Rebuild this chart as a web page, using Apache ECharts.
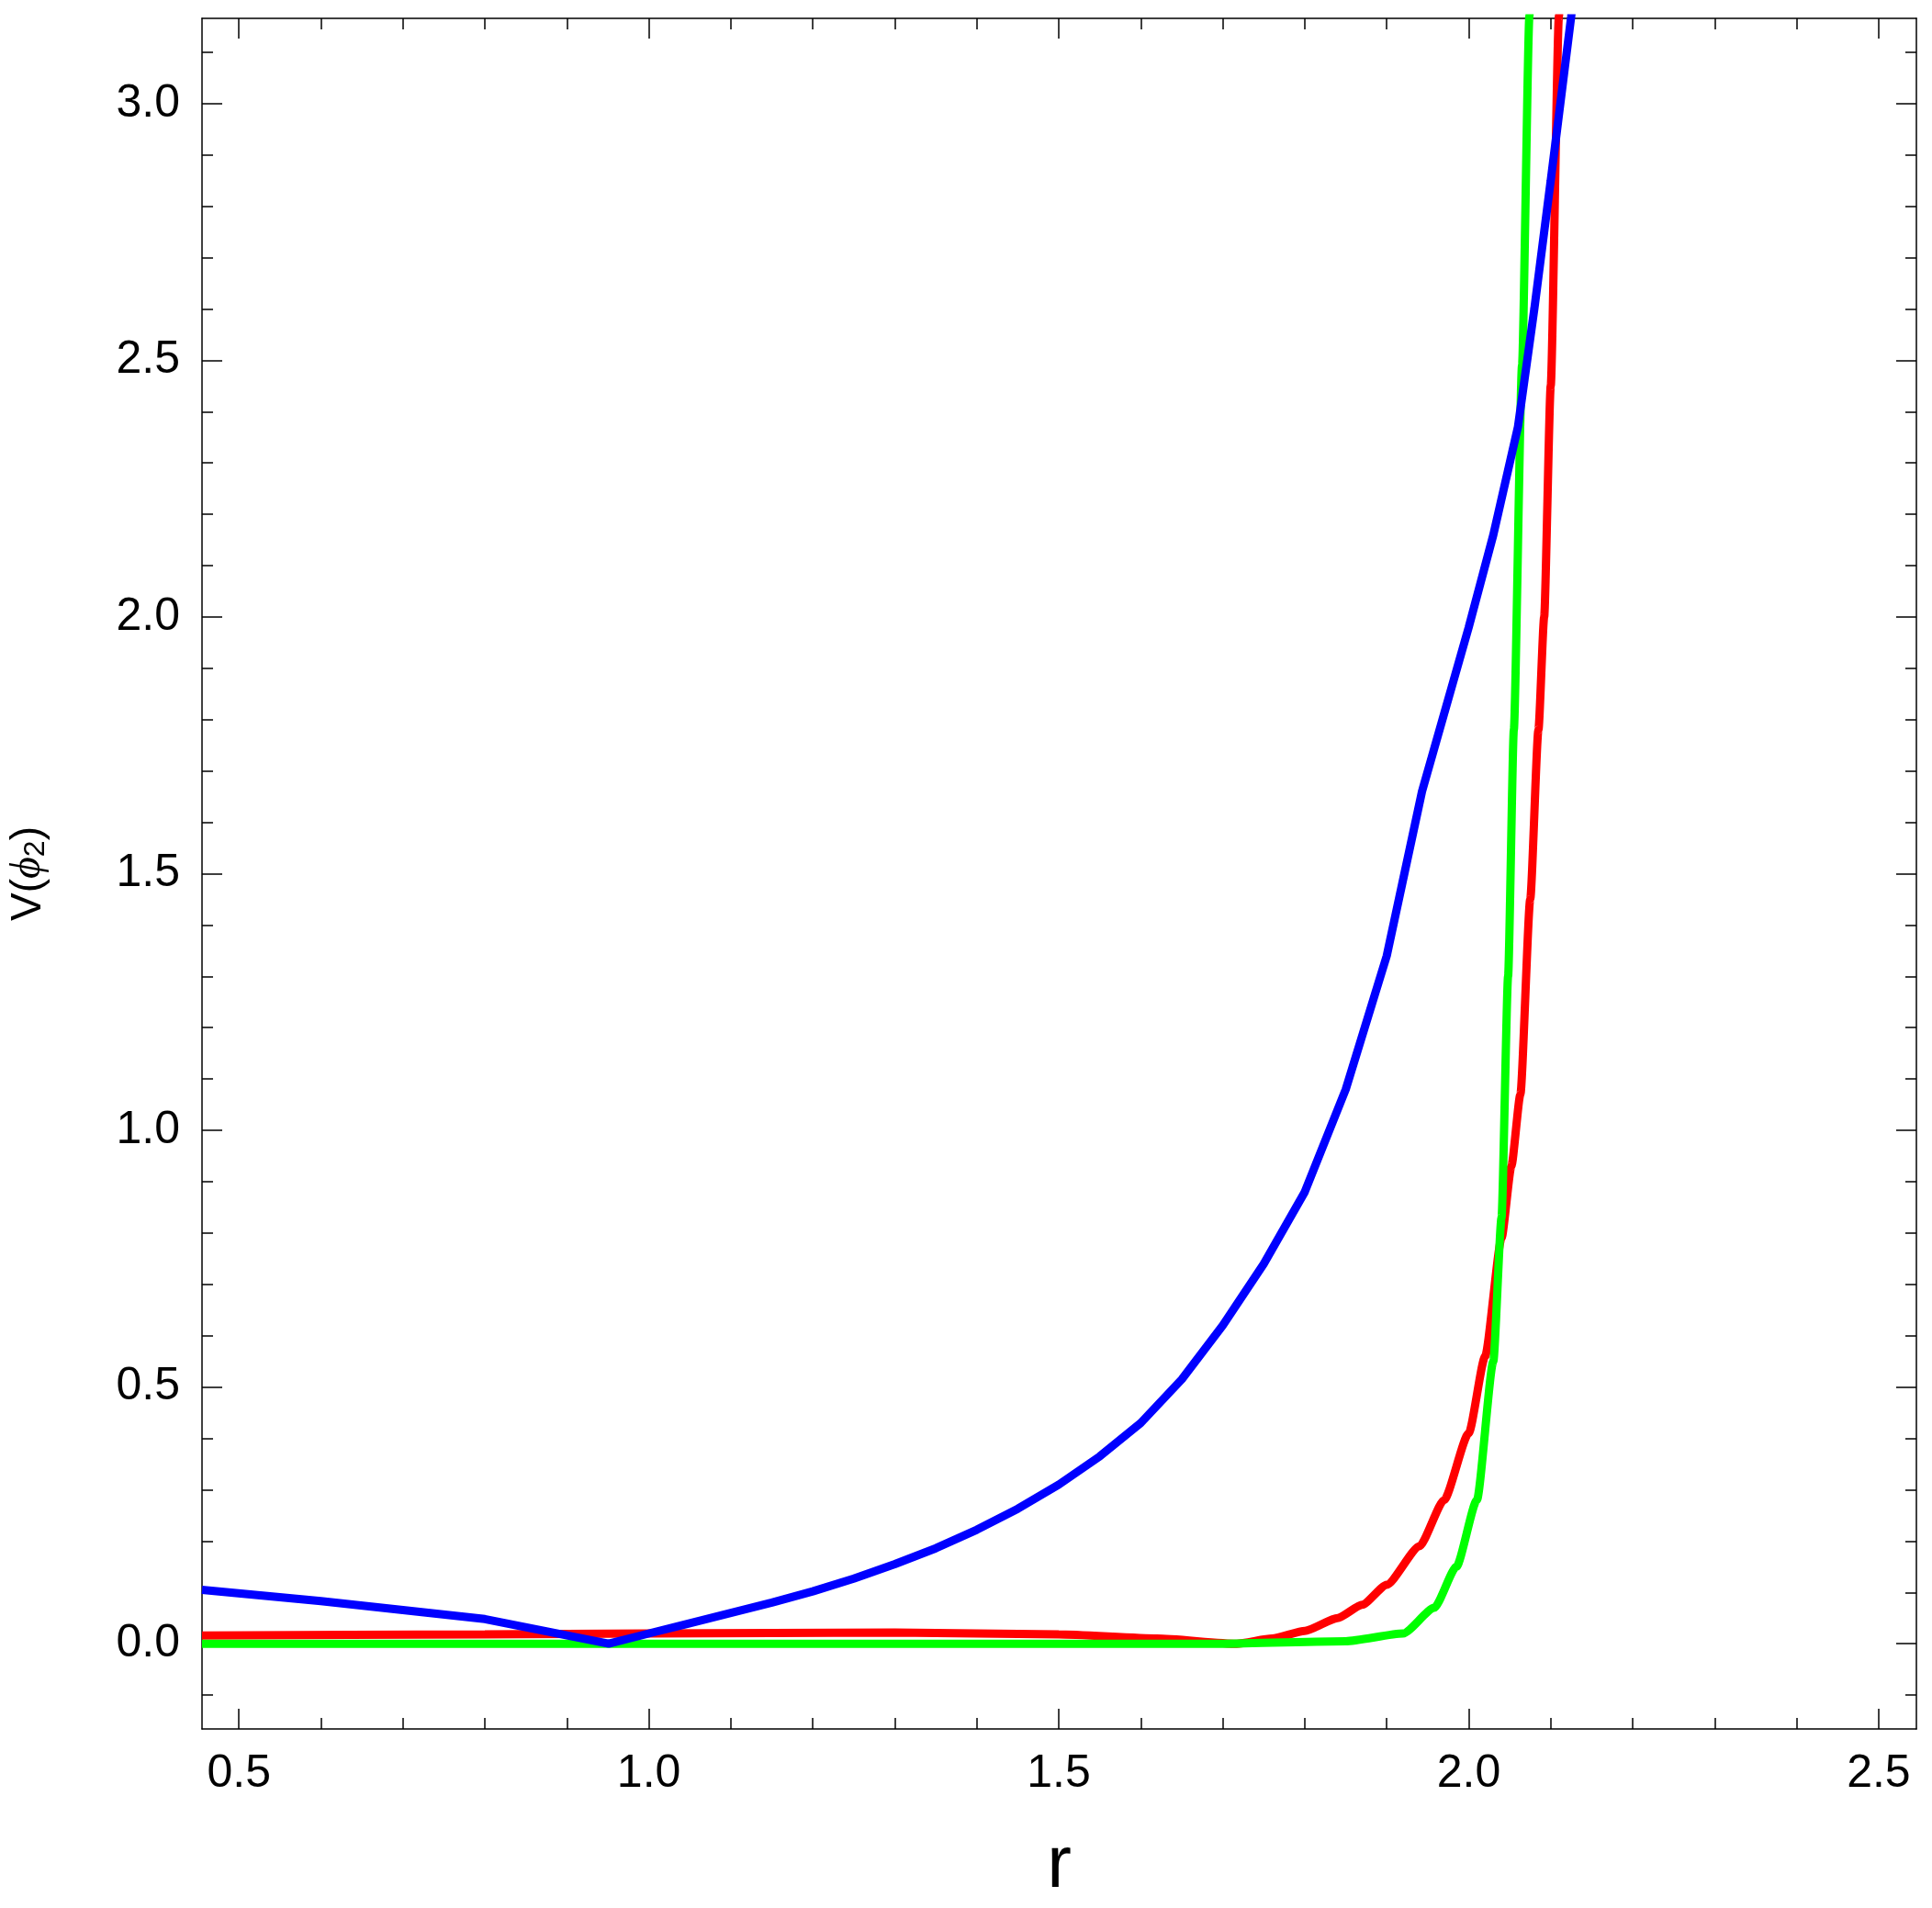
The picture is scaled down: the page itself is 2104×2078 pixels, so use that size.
<!DOCTYPE html>
<html><head><meta charset="utf-8">
<script src="https://cdn.jsdelivr.net/npm/echarts@6/dist/echarts.min.js"></script>
<style>html,body{margin:0;background:#fff}#c{width:2104px;height:2078px}</style>
</head><body><div id="c"></div>
<script>
const blue = [[0.455,0.105],[0.6,0.083],[0.8,0.048],[0.951,0.0],[1.0,0.02],[1.05,0.04],[1.1,0.06],[1.15,0.08],[1.2,0.102],[1.25,0.127],[1.3,0.155],[1.35,0.186],[1.4,0.222],[1.45,0.263],[1.5,0.31],[1.55,0.365],[1.6,0.43],[1.65,0.515],[1.7,0.62],[1.75,0.74],[1.8,0.88],[1.85,1.08],[1.9,1.34],[1.943,1.66],[2.0,1.98],[2.03,2.16],[2.06,2.37],[2.08,2.6],[2.1,2.85],[2.125,3.17],[2.13,3.25]];
const red = [[0.455,0.016],[0.8,0.018],[1.0,0.02],[1.3,0.022],[1.5,0.018],[1.62,0.01],[1.717,0.0],[1.76,0.01],[1.8,0.025],[1.84,0.05],[1.87,0.076],[1.9,0.115],[1.94,0.19],[1.97,0.28],[2.0,0.41],[2.02,0.56],[2.04,0.79],[2.052,0.93],[2.063,1.07],[2.075,1.45],[2.085,1.78],[2.092,2.0],[2.1,2.45],[2.11,3.17],[2.113,3.3]];
const green = [[0.455,0.0],[1.7,0.0],[1.85,0.005],[1.92,0.02],[1.958,0.07],[1.985,0.15],[2.01,0.28],[2.03,0.55],[2.04,0.83],[2.048,1.3],[2.055,1.78],[2.065,2.49],[2.074,3.17],[2.076,3.3]];
const xt = [0.5,1.0,1.5,2.0,2.5], yt = [0,0.5,1,1.5,2,2.5,3];
const ch = echarts.init(document.getElementById('c'));
const ax = {onZero:false,lineStyle:{color:'#000',width:1.5}};
const tk = {inside:true,length:22,lineStyle:{color:'#000',width:1.5}};
const mt = {show:true,splitNumber:5,length:12,lineStyle:{color:'#000',width:1.5}};
const lab = {fontSize:50,fontFamily:'Liberation Sans',color:'#000',margin:24,formatter:v=>v.toFixed(1)};
ch.setOption({
  animation:false,
  grid:{left:201,right:17,top:20,bottom:174},
  xAxis:[
    {type:'value',min:0.455,max:2.546,name:'r',nameLocation:'middle',nameGap:110,
     nameTextStyle:{fontSize:80,fontFamily:'Liberation Sans',color:'#000'},
     axisLine:ax,axisTick:Object.assign({customValues:xt},tk),minorTick:mt,splitLine:{show:false},
     axisLabel:Object.assign({customValues:xt},lab)},
    {type:'value',position:'top',min:0.455,max:2.546,axisLine:ax,
     axisTick:Object.assign({customValues:xt},tk),minorTick:mt,axisLabel:{show:false},splitLine:{show:false}}
  ],
  yAxis:[
    {type:'value',min:-0.166,max:3.166,name:'{a|V(}{b|ϕ}{c|2}{a|)}',nameLocation:'middle',nameGap:165,
     nameTextStyle:{rich:{a:{fontSize:46,fontFamily:'Liberation Sans'},b:{fontSize:46,fontStyle:'italic',fontFamily:'Liberation Serif'},c:{fontSize:32,padding:[16,0,0,0],fontFamily:'Liberation Sans'}}},
     axisLine:ax,axisTick:Object.assign({customValues:yt},tk),minorTick:mt,splitLine:{show:false},
     axisLabel:Object.assign({customValues:yt},lab)},
    {type:'value',position:'right',min:-0.166,max:3.166,axisLine:ax,
     axisTick:Object.assign({customValues:yt},tk),minorTick:mt,axisLabel:{show:false},splitLine:{show:false}}
  ],
  series:[
    {type:'line',data:red,smooth:0.2,smoothMonotone:'x',showSymbol:false,clip:true,lineStyle:{color:'#ff0000',width:9}},
    {type:'line',data:green,smooth:0.2,smoothMonotone:'x',showSymbol:false,clip:true,lineStyle:{color:'#00ff00',width:9}},
    {type:'line',data:blue,smooth:false,showSymbol:false,clip:true,lineStyle:{color:'#0000ff',width:9}}
  ]
});
</script></body></html>
